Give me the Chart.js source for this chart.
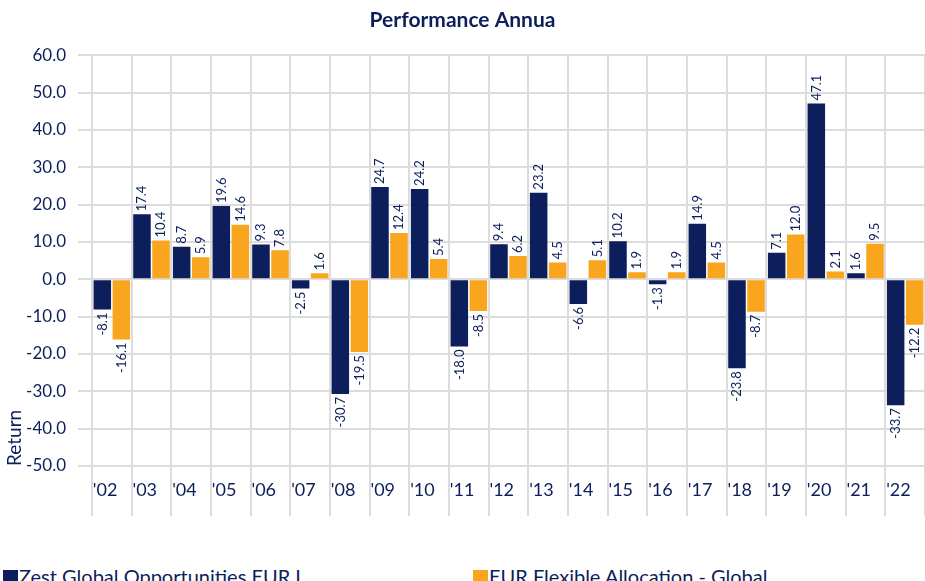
<!DOCTYPE html>
<html>
<head>
<meta charset="utf-8">
<script src="https://cdn.jsdelivr.net/npm/chart.js@4"></script>
<style>
    html, body { margin: 0; padding: 0; background: #fff; overflow: hidden; }
    #wrap { position: relative; width: 925px; height: 530px; }
    #legend { position: absolute; top: 565px; left: 0; width: 925px; font-family: Lato, sans-serif; font-size: 20px; color: #0c1e5b; }
    .item { position: absolute; top: 0; white-space: nowrap; line-height: 22px; }
    .box { display: inline-block; width: 15px; height: 15px; vertical-align: -1px; margin-right: 1px; }
</style>
</head>
<body>
<div id="wrap"><canvas id="perfChart"></canvas></div>
<div id="legend"></div>
<script>
// chart data
const years = ["'02", "'03", "'04", "'05", "'06", "'07", "'08", "'09", "'10", "'11", "'12",
               "'13", "'14", "'15", "'16", "'17", "'18", "'19", "'20", "'21", "'22"];
const zestReturns = [-8.1, 17.4, 8.7, 19.6, 9.3, -2.5, -30.7, 24.7, 24.2, -18.0, 9.4,
                     23.2, -6.6, 10.2, -1.3, 14.9, -23.8, 7.1, 47.1, 1.6, -33.7];
const flexReturns = [-16.1, 10.4, 5.9, 14.6, 7.8, 1.6, -19.5, 12.4, 5.4, -8.5, 6.2,
                     4.5, 5.1, 1.9, 1.9, 4.5, -8.7, 12.0, 2.1, 9.5, -12.2];
const seriesNames = ['Zest Global Opportunities EUR I', 'EUR Flexible Allocation - Global'];
const yMin = -50, yMax = 60, yStep = 10;

const NAVY = '#0c1e5b';
const ORANGE = '#f9a51e';
const GRID = '#dcdcdc';
const FONT = 'Lato, sans-serif';

// value labels, rotated, at the end of each bar
const barValueLabels = {
    id: 'barValueLabels',
    afterDatasetsDraw(chart) {
        const ctx = chart.ctx;
        ctx.save();
        ctx.font = '13px ' + FONT;
        ctx.fillStyle = NAVY;
        ctx.textBaseline = 'middle';
        chart.data.datasets.forEach((ds, di) => {
            const meta = chart.getDatasetMeta(di);
            meta.data.forEach((bar, i) => {
                const v = ds.data[i];
                const txt = v.toFixed(1);
                ctx.save();
                ctx.translate(bar.x, bar.y);
                ctx.rotate(-Math.PI / 2);
                if (v >= 0) {
                    ctx.textAlign = 'left';
                    ctx.fillText(txt, 3, 0);
                } else {
                    ctx.textAlign = 'right';
                    ctx.fillText(txt, -3, 0);
                }
                ctx.restore();
            });
        });
        ctx.restore();
    }
};

const ctx = document.getElementById('perfChart').getContext('2d');
const chart = new Chart(ctx, {
    type: 'bar',
    data: {
        labels: years,
        datasets: [{
            label: seriesNames[0],
            data: zestReturns,
            backgroundColor: NAVY,
            categoryPercentage: 0.96,
            barPercentage: 0.92
        }, {
            label: seriesNames[1],
            data: flexReturns,
            backgroundColor: ORANGE,
            categoryPercentage: 0.96,
            barPercentage: 0.92
        }]
    },
    options: {
        responsive: true,
        maintainAspectRatio: false,
        animation: false,
        layout: { padding: { top: 0, right: 0, bottom: 4, left: 0 } },
        plugins: {
            legend: { display: false },
            tooltip: { enabled: false },
            title: {
                display: true,
                text: 'Performance Annua',
                color: NAVY,
                font: { family: FONT, size: 21, weight: 'bold' },
                padding: { top: 8, bottom: 22 }
            }
        },
        scales: {
            x: {
                grid: { color: GRID, lineWidth: 2, tickLength: 50, offset: true },
                border: { display: false },
                ticks: {
                    color: NAVY,
                    font: { family: FONT, size: 18 },
                    align: 'start',
                    labelOffset: -19,
                    padding: -37,
                    maxRotation: 0,
                    autoSkip: false
                },
                afterFit(scale) { scale.height = 60; }
            },
            y: {
                min: yMin,
                max: yMax,
                grid: { color: GRID, lineWidth: 2, tickLength: 14 },
                border: { display: false },
                ticks: {
                    stepSize: yStep,
                    color: NAVY,
                    font: { family: FONT, size: 17 },
                    padding: 12,
                    callback: (v) => v.toFixed(1)
                },
                title: {
                    display: true,
                    text: 'Return',
                    align: 'start',
                    color: NAVY,
                    font: { family: FONT, size: 19 },
                    padding: { top: 3, bottom: 0 }
                },
                afterFit(scale) { scale.width = 92; }
            }
        }
    },
    plugins: [barValueLabels]
});

// legend below the chart
const legend = document.getElementById('legend');
const legendLeft = [3, 473];
chart.data.datasets.forEach((ds, i) => {
    const item = document.createElement('div');
    item.className = 'item';
    item.style.left = legendLeft[i] + 'px';
    item.innerHTML = '<span class="box" style="background:' + ds.backgroundColor + '"></span>' + ds.label;
    legend.appendChild(item);
});
</script>
</body>
</html>
